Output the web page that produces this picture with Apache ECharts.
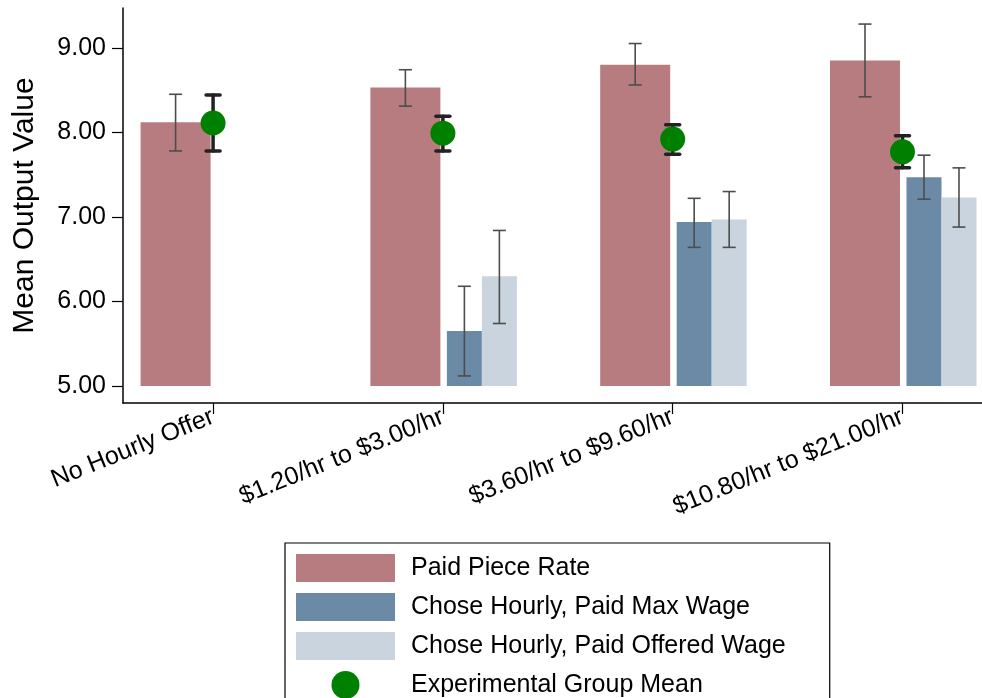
<!DOCTYPE html>
<html>
<head>
<meta charset="utf-8">
<script src="https://cdn.jsdelivr.net/npm/echarts@6/dist/echarts.min.js"></script>
<style>
  html, body { margin: 0; padding: 0; background: #fff; }
  #chart { width: 982px; height: 698px; }
</style>
</head>
<body>
<div id="chart"></div>
<script>
var categories = ['No Hourly Offer', '$1.20/hr to $3.00/hr', '$3.60/hr to $9.60/hr', '$10.80/hr to $21.00/hr']
var yTicks = [5, 6, 7, 8, 9]
var baseLine = 5

// Paid Piece Rate
var pieceMean = [8.12, 8.53, 8.80, 8.85]
var pieceLow = [7.78, 8.31, 8.56, 8.42]
var pieceHigh = [8.45, 8.74, 9.05, 9.28]
// Chose Hourly, Paid Max Wage (no bar in first group)
var maxMean = [null, 5.65, 6.94, 7.47]
var maxLow = [null, 5.12, 6.64, 7.21]
var maxHigh = [null, 6.18, 7.22, 7.73]
// Chose Hourly, Paid Offered Wage
var offMean = [null, 6.30, 6.97, 7.23]
var offLow = [null, 5.74, 6.64, 6.88]
var offHigh = [null, 6.84, 7.30, 7.58]
// Experimental Group Mean
var groupMean = [8.11, 7.99, 7.92, 7.77]
var groupLow = [7.78, 7.78, 7.74, 7.58]
var groupHigh = [8.44, 8.19, 8.09, 7.96]

var font = 'Liberation Sans, Arial, sans-serif'

function rows(mean, low, high) {
  var out = []
  for (var i = 0; i < mean.length; i++) {
    if (mean[i] == null) continue
    out.push([i + 1, mean[i], low[i], high[i]])
  }
  return out
}

// bar + thin grey error bar, dx / width in pixels
function barRenderer(dx, width, color) {
  return function (params, api) {
    var top = api.coord([api.value(0), api.value(1)])
    var bot = api.coord([api.value(0), baseLine])
    var lo = api.coord([api.value(0), api.value(2)])
    var hi = api.coord([api.value(0), api.value(3)])
    var cx = top[0] + dx
    var cap = 6.5
    var line = { stroke: '#4d4d4d', lineWidth: 1.6 }
    return {
      type: 'group',
      children: [
        { type: 'rect', shape: { x: cx - width / 2, y: top[1], width: width, height: bot[1] - top[1] }, style: { fill: color } },
        { type: 'line', shape: { x1: cx, y1: lo[1], x2: cx, y2: hi[1] }, style: line },
        { type: 'line', shape: { x1: cx - cap, y1: lo[1], x2: cx + cap, y2: lo[1] }, style: line },
        { type: 'line', shape: { x1: cx - cap, y1: hi[1], x2: cx + cap, y2: hi[1] }, style: line }
      ]
    }
  }
}

function dotRenderer(params, api) {
  var c = api.coord([api.value(0), api.value(1)])
  var lo = api.coord([api.value(0), api.value(2)])
  var hi = api.coord([api.value(0), api.value(3)])
  var cap = 7
  var line = { stroke: '#222', lineWidth: 3.5, lineCap: 'round' }
  return {
    type: 'group',
    children: [
      { type: 'line', shape: { x1: c[0], y1: lo[1], x2: c[0], y2: hi[1] }, style: line },
      { type: 'line', shape: { x1: c[0] - cap, y1: lo[1], x2: c[0] + cap, y2: lo[1] }, style: line },
      { type: 'line', shape: { x1: c[0] - cap, y1: hi[1], x2: c[0] + cap, y2: hi[1] }, style: line },
      { type: 'circle', shape: { cx: c[0], cy: c[1], r: 12.5 }, style: { fill: '#008000' } }
    ]
  }
}

var chart = echarts.init(document.getElementById('chart'))
chart.setOption({
  animation: false,
  textStyle: { fontFamily: font },
  grid: { left: 123, right: 0, top: 8, bottom: 295 },
  xAxis: {
    type: 'value',
    min: 0.608,
    max: 4.346,
    splitLine: { show: false },
    axisLine: { lineStyle: { color: '#000', width: 1.5 } },
    axisTick: { customValues: [1, 2, 3, 4], length: 11, lineStyle: { color: '#000', width: 1.2 } },
    axisLabel: {
      customValues: [1, 2, 3, 4],
      rotate: 22,
      margin: 13,
      fontSize: 25,
      color: '#000',
      fontFamily: font,
      formatter: function (v) { return categories[Math.round(v) - 1] }
    }
  },
  yAxis: {
    type: 'value',
    min: 4.80,
    max: 9.47,
    name: 'Mean Output Value',
    nameLocation: 'middle',
    nameRotate: 90,
    nameGap: 83,
    nameTextStyle: { fontSize: 30, color: '#000', fontFamily: font },
    splitLine: { show: false },
    axisLine: { show: true, lineStyle: { color: '#000', width: 1.5 } },
    axisTick: { customValues: yTicks, length: 11, lineStyle: { color: '#000', width: 1.2 } },
    axisLabel: {
      customValues: yTicks,
      margin: 17,
      fontSize: 25,
      color: '#000',
      fontFamily: font,
      formatter: function (v) { return v.toFixed(2) }
    }
  },
  legend: {
    orient: 'vertical',
    left: 285,
    top: 543,
    height: 170,
    itemWidth: 99,
    itemHeight: 28,
    itemGap: 11,
    padding: [11, 44, 20, 11],
    borderColor: '#000',
    borderWidth: 1.2,
    textStyle: { fontSize: 25, color: '#000', fontFamily: font, padding: [0, 0, 0, 11] },
    data: [
      { name: 'Paid Piece Rate', icon: 'rect' },
      { name: 'Chose Hourly, Paid Max Wage', icon: 'rect' },
      { name: 'Chose Hourly, Paid Offered Wage', icon: 'rect' },
      { name: 'Experimental Group Mean', icon: 'circle' }
    ]
  },
  series: [
    {
      name: 'Paid Piece Rate',
      type: 'custom',
      itemStyle: { color: '#b77c80' },
      renderItem: barRenderer(-37.5, 70, '#b77c80'),
      encode: { x: 0, y: [1, 2, 3] },
      data: rows(pieceMean, pieceLow, pieceHigh),
      z: 2
    },
    {
      name: 'Chose Hourly, Paid Max Wage',
      type: 'custom',
      itemStyle: { color: '#6b8aa5' },
      renderItem: barRenderer(21.5, 35, '#6b8aa5'),
      encode: { x: 0, y: [1, 2, 3] },
      data: rows(maxMean, maxLow, maxHigh),
      z: 2
    },
    {
      name: 'Chose Hourly, Paid Offered Wage',
      type: 'custom',
      itemStyle: { color: '#c9d4de' },
      renderItem: barRenderer(56.5, 35, '#c9d4de'),
      encode: { x: 0, y: [1, 2, 3] },
      data: rows(offMean, offLow, offHigh),
      z: 2
    },
    {
      name: 'Experimental Group Mean',
      type: 'custom',
      itemStyle: { color: '#008000' },
      renderItem: dotRenderer,
      encode: { x: 0, y: [1, 2, 3] },
      data: rows(groupMean, groupLow, groupHigh),
      z: 3
    }
  ]
})
</script>
</body>
</html>
